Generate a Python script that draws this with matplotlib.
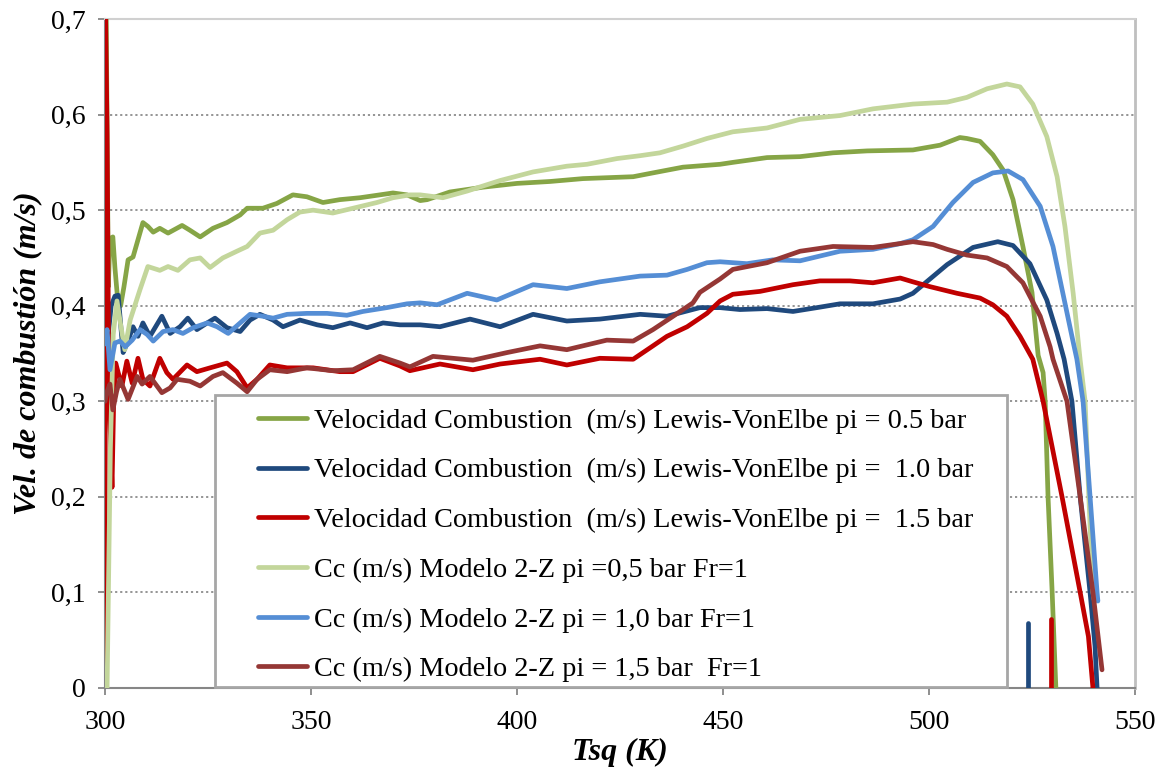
import matplotlib.pyplot as plt
from matplotlib.patches import Rectangle

plt.rcParams['font.family'] = ['Liberation Serif', 'DejaVu Serif']

# --- Data (Tsq in K, burning velocity in m/s) ---------------------------------

# Lewis-VonElbe, pi = 0.5 bar
lv05_x = [300.3, 300.8, 301.2, 301.9, 302.4, 303.0, 303.8, 304.6, 305.6, 306.8,
          307.8, 309.2, 310.4, 311.7, 313.3, 315.3, 318.7, 320.6, 323.1, 326.2,
          329.6, 332.8, 334.5, 338.3, 341.7, 345.6, 349.0, 352.9, 357.0, 361.9,
          366.7, 369.9, 373.3, 376.5, 378.2, 383.7, 391.7, 400.0, 408.0, 416.0,
          428.2, 433.0, 440.3, 449.3, 452.4, 460.7, 468.7, 476.7, 485.0, 496.1,
          502.7, 507.5, 509.2, 512.4, 515.5, 518.0, 520.4, 522.8, 525.0, 526.5,
          527.7, 528.2, 528.9, 529.9, 530.8]
lv05_y = [0.70, 0.42, 0.47, 0.472, 0.44, 0.41, 0.40, 0.42, 0.448, 0.451,
          0.466, 0.487, 0.483, 0.477, 0.481, 0.476, 0.484, 0.479, 0.472, 0.481,
          0.487, 0.495, 0.502, 0.502, 0.507, 0.516, 0.514, 0.508, 0.511, 0.513,
          0.516, 0.518, 0.516, 0.510, 0.511, 0.519, 0.524, 0.528, 0.530, 0.533,
          0.535, 0.539, 0.545, 0.548, 0.550, 0.555, 0.556, 0.560, 0.562, 0.563,
          0.568, 0.576, 0.575, 0.572, 0.558, 0.542, 0.511, 0.462, 0.414, 0.348,
          0.330, 0.30, 0.20, 0.10, 0.0]

# Lewis-VonElbe, pi = 1.0 bar
lv10_x = [300.3, 300.8, 301.5, 302.4, 303.2, 304.0, 304.4, 305.3, 306.8, 308.0,
          309.2, 310.9, 313.8, 315.8, 318.2, 320.1, 322.3, 324.8, 326.7, 329.6,
          332.8, 335.2, 337.6, 340.8, 343.2, 347.3, 351.5, 355.3, 359.5, 363.6,
          367.5, 371.6, 376.5, 381.3, 388.6, 395.9, 403.9, 412.1, 420.1, 429.9,
          436.4, 444.4, 449.3, 454.1, 460.7, 467.0, 472.8, 478.4, 486.4, 493.0,
          496.1, 504.4, 510.7, 516.7, 520.4, 524.5, 528.6, 531.1, 532.8, 534.7,
          536.7, 539.1, 540.3, 540.8]
lv10_y = [0.33, 0.37, 0.40, 0.41, 0.411, 0.37, 0.351, 0.36, 0.378, 0.368,
          0.382, 0.368, 0.389, 0.371, 0.378, 0.387, 0.375, 0.382, 0.387, 0.377,
          0.373, 0.385, 0.391, 0.385, 0.378, 0.385, 0.380, 0.377, 0.382, 0.377,
          0.382, 0.380, 0.380, 0.378, 0.386, 0.378, 0.391, 0.384, 0.386, 0.391,
          0.389, 0.398, 0.398, 0.396, 0.397, 0.394, 0.398, 0.402, 0.402, 0.407,
          0.413, 0.443, 0.461, 0.467, 0.463, 0.444, 0.406, 0.371, 0.344, 0.30,
          0.20, 0.10, 0.044, 0.0]
lv10_tail_x = [524.0, 524.0]
lv10_tail_y = [0.0, 0.068]

# Lewis-VonElbe, pi = 1.5 bar
lv15_x = [300.0, 300.15, 300.5, 300.9, 301.4, 301.7, 302.1, 302.6, 303.2, 304.1,
          305.3, 306.6, 308.0, 309.2, 310.9, 313.3, 315.0, 316.5, 319.9, 322.3,
          325.5, 329.6, 332.0, 334.5, 336.9, 340.0, 344.2, 350.5, 357.0, 360.2,
          366.7, 371.6, 374.0, 381.3, 389.3, 395.9, 405.6, 412.1, 420.1, 428.2,
          433.0, 436.4, 441.3, 446.1, 449.3, 452.4, 459.0, 467.0, 473.5, 480.8,
          486.4, 493.0, 496.1, 500.2, 506.8, 512.4, 515.5, 518.9, 522.1, 525.2,
          527.7, 532.3, 536.7, 538.7, 539.8]
lv15_y = [0.0, 0.70, 0.58, 0.33, 0.25, 0.21, 0.30, 0.34, 0.33, 0.316,
          0.342, 0.319, 0.345, 0.323, 0.316, 0.345, 0.330, 0.323, 0.338, 0.331,
          0.335, 0.340, 0.331, 0.314, 0.323, 0.338, 0.335, 0.335, 0.331, 0.331,
          0.345, 0.337, 0.332, 0.339, 0.333, 0.339, 0.344, 0.338, 0.345, 0.344,
          0.358, 0.368, 0.378, 0.392, 0.405, 0.412, 0.415, 0.422, 0.426, 0.426,
          0.424, 0.429, 0.425, 0.420, 0.413, 0.408, 0.401, 0.389, 0.368, 0.344,
          0.30, 0.20, 0.10, 0.054, 0.0]
lv15_tail_x = [529.6, 529.6]
lv15_tail_y = [0.0, 0.072]

# Modelo 2-Z, pi = 0.5 bar
cc05_x = [300.5, 301.3, 302.0, 302.9, 303.8, 304.8, 306.1, 308.5, 310.4, 313.3,
          315.3, 317.7, 320.6, 323.1, 325.5, 328.6, 332.0, 334.5, 337.6, 340.8,
          344.2, 347.3, 350.5, 355.3, 360.2, 366.0, 369.9, 374.0, 376.5, 382.0,
          387.9, 395.9, 403.9, 412.1, 417.0, 424.3, 429.9, 434.7, 440.3, 446.1,
          452.4, 460.7, 468.7, 478.4, 486.4, 496.1, 504.4, 509.2, 514.1, 518.9,
          522.1, 525.2, 528.6, 531.1, 533.0, 535.0, 536.7, 537.9, 538.8, 539.8,
          540.2]
cc05_y = [0.0, 0.25, 0.37, 0.405, 0.38, 0.354, 0.385, 0.417, 0.441, 0.437,
          0.441, 0.437, 0.448, 0.450, 0.440, 0.450, 0.457, 0.462, 0.476, 0.479,
          0.490, 0.498, 0.500, 0.497, 0.502, 0.508, 0.513, 0.516, 0.516, 0.513,
          0.520, 0.531, 0.540, 0.546, 0.548, 0.554, 0.557, 0.560, 0.567, 0.575,
          0.582, 0.586, 0.595, 0.599, 0.606, 0.611, 0.613, 0.618, 0.627, 0.632,
          0.629, 0.611, 0.577, 0.535, 0.483, 0.413, 0.343, 0.30, 0.20, 0.10,
          0.09]

# Modelo 2-Z, pi = 1.0 bar
cc10_x = [300.0, 300.5, 301.2, 302.4, 303.6, 304.9, 306.6, 308.5, 310.2, 311.7,
          314.1, 316.5, 318.9, 321.4, 324.8, 327.2, 329.9, 332.8, 335.2, 338.3,
          340.8, 344.2, 349.0, 353.9, 358.7, 362.6, 368.4, 373.3, 376.5, 380.6,
          387.9, 395.1, 403.9, 412.1, 420.1, 429.9, 436.4, 441.3, 446.1, 449.3,
          455.8, 462.1, 468.7, 478.4, 486.4, 493.0, 496.1, 501.0, 505.8, 510.7,
          515.5, 519.2, 522.8, 527.0, 530.1, 532.5, 534.7, 535.9, 537.4, 539.1,
          540.8, 541.0]
cc10_y = [0.36, 0.375, 0.333, 0.361, 0.363, 0.357, 0.364, 0.375, 0.370, 0.363,
          0.373, 0.375, 0.371, 0.377, 0.382, 0.378, 0.371, 0.382, 0.391, 0.389,
          0.387, 0.391, 0.392, 0.392, 0.390, 0.394, 0.398, 0.402, 0.403, 0.401,
          0.413, 0.406, 0.422, 0.418, 0.425, 0.431, 0.432, 0.438, 0.445, 0.446,
          0.444, 0.448, 0.447, 0.457, 0.459, 0.465, 0.469, 0.483, 0.508, 0.529,
          0.539, 0.541, 0.532, 0.504, 0.462, 0.413, 0.368, 0.344, 0.30, 0.20,
          0.10, 0.091]

# Modelo 2-Z, pi = 1.5 bar
cc15_x = [300.0, 300.5, 301.2, 301.9, 302.8, 303.6, 305.6, 307.8, 309.0, 310.9,
          313.8, 315.8, 317.5, 320.6, 323.1, 326.2, 328.6, 332.0, 334.5, 336.9,
          340.0, 344.2, 349.0, 355.3, 360.2, 366.7, 371.6, 374.0, 379.6, 389.3,
          397.6, 405.6, 412.1, 421.8, 428.2, 433.0, 437.9, 442.7, 444.4, 449.3,
          452.4, 460.7, 468.7, 476.7, 486.4, 496.1, 501.0, 504.4, 509.2, 514.1,
          518.9, 522.8, 527.0, 529.4, 530.1, 533.5, 536.7, 539.8, 542.0]
cc15_y = [0.30, 0.31, 0.318, 0.291, 0.31, 0.323, 0.302, 0.326, 0.318, 0.326,
          0.309, 0.314, 0.323, 0.321, 0.316, 0.326, 0.330, 0.319, 0.310, 0.323,
          0.333, 0.331, 0.335, 0.332, 0.333, 0.347, 0.340, 0.336, 0.347, 0.343,
          0.351, 0.358, 0.354, 0.364, 0.363, 0.375, 0.389, 0.403, 0.414, 0.428,
          0.438, 0.445, 0.457, 0.462, 0.461, 0.467, 0.464, 0.459, 0.453, 0.450,
          0.441, 0.424, 0.389, 0.357, 0.344, 0.30, 0.20, 0.10, 0.019]

labels = [
    "Velocidad Combustion  (m/s) Lewis-VonElbe pi = 0.5 bar",
    "Velocidad Combustion  (m/s) Lewis-VonElbe pi =  1.0 bar",
    "Velocidad Combustion  (m/s) Lewis-VonElbe pi =  1.5 bar",
    "Cc (m/s) Modelo 2-Z pi =0,5 bar Fr=1",
    "Cc (m/s) Modelo 2-Z pi = 1,0 bar Fr=1",
    "Cc (m/s) Modelo 2-Z pi = 1,5 bar  Fr=1",
]
colors = ["#86a546", "#1f497d", "#c00000", "#c3d69b", "#558ed5", "#953735"]

x_ticks = [300, 350, 400, 450, 500, 550]
y_ticks = [0.0, 0.1, 0.2, 0.3, 0.4, 0.5, 0.6, 0.7]
y_tick_labels = ["0", "0,1", "0,2", "0,3", "0,4", "0,5", "0,6", "0,7"]

# --- Plot ---------------------------------------------------------------------

fig = plt.figure(figsize=(11.63, 7.70), dpi=100)
ax = fig.add_axes([0.0903, 0.1065, 0.8856, 0.8688])

series = [(lv05_x, lv05_y), (lv10_x, lv10_y), (lv15_x, lv15_y),
          (cc05_x, cc05_y), (cc10_x, cc10_y), (cc15_x, cc15_y)]
line_kw = dict(linewidth=3.4, solid_capstyle="round", solid_joinstyle="round")
for (xs, ys), col, lab in zip(series, colors, labels):
    ax.plot(xs, ys, color=col, label=lab, zorder=3, **line_kw)

# short vertical stubs left at the end of two Lewis-VonElbe runs
ax.plot(lv10_tail_x, lv10_tail_y, color=colors[1], zorder=3, **line_kw)
ax.plot(lv15_tail_x, lv15_tail_y, color=colors[2], zorder=3, **line_kw)

ax.set_xlim(300, 550)
ax.set_ylim(0, 0.7)
ax.set_xticks(x_ticks)
ax.set_yticks(y_ticks)
ax.set_yticklabels(y_tick_labels)
ax.tick_params(axis="both", direction="out", length=5, width=1.3,
               color="#868686", labelsize=20, labelcolor="black")
ax.tick_params(axis="y", pad=9)
ax.tick_params(axis="x", pad=11)

ax.yaxis.grid(True, color="#8c8c8c", linewidth=1.3, linestyle=(0, (1.2, 1.6)))
ax.set_axisbelow(True)

for side in ("left", "bottom"):
    ax.spines[side].set_color("#868686")
    ax.spines[side].set_linewidth(1.5)
ax.spines["right"].set_color("#bfbfbf")
ax.spines["right"].set_linewidth(2)
ax.spines["top"].set_color("#d0d0d0")
ax.spines["top"].set_linewidth(1.5)

ax.set_xlabel("Tsq (K)", fontsize=23, fontweight="bold", fontstyle="italic",
              labelpad=2)
ax.set_ylabel("Vel. de combustión (m/s)", fontsize=23, fontweight="bold",
              fontstyle="italic", labelpad=6)

# legend box
ax.add_patch(Rectangle((215 / 1163, 1 - 687 / 770), 792 / 1163, 292 / 770,
                       transform=fig.transFigure, facecolor="white",
                       edgecolor="#a6a6a6", linewidth=2, zorder=4,
                       clip_on=False))
leg = ax.legend(loc="upper left", bbox_to_anchor=(258 / 1163, 1 - 408 / 770),
                bbox_transform=fig.transFigure, frameon=False, fontsize=20.3,
                handlelength=1.75, handletextpad=0.25, labelspacing=0.85,
                borderpad=0, borderaxespad=0)
leg.set_zorder(5)

fig.savefig("out.png", dpi=100)
